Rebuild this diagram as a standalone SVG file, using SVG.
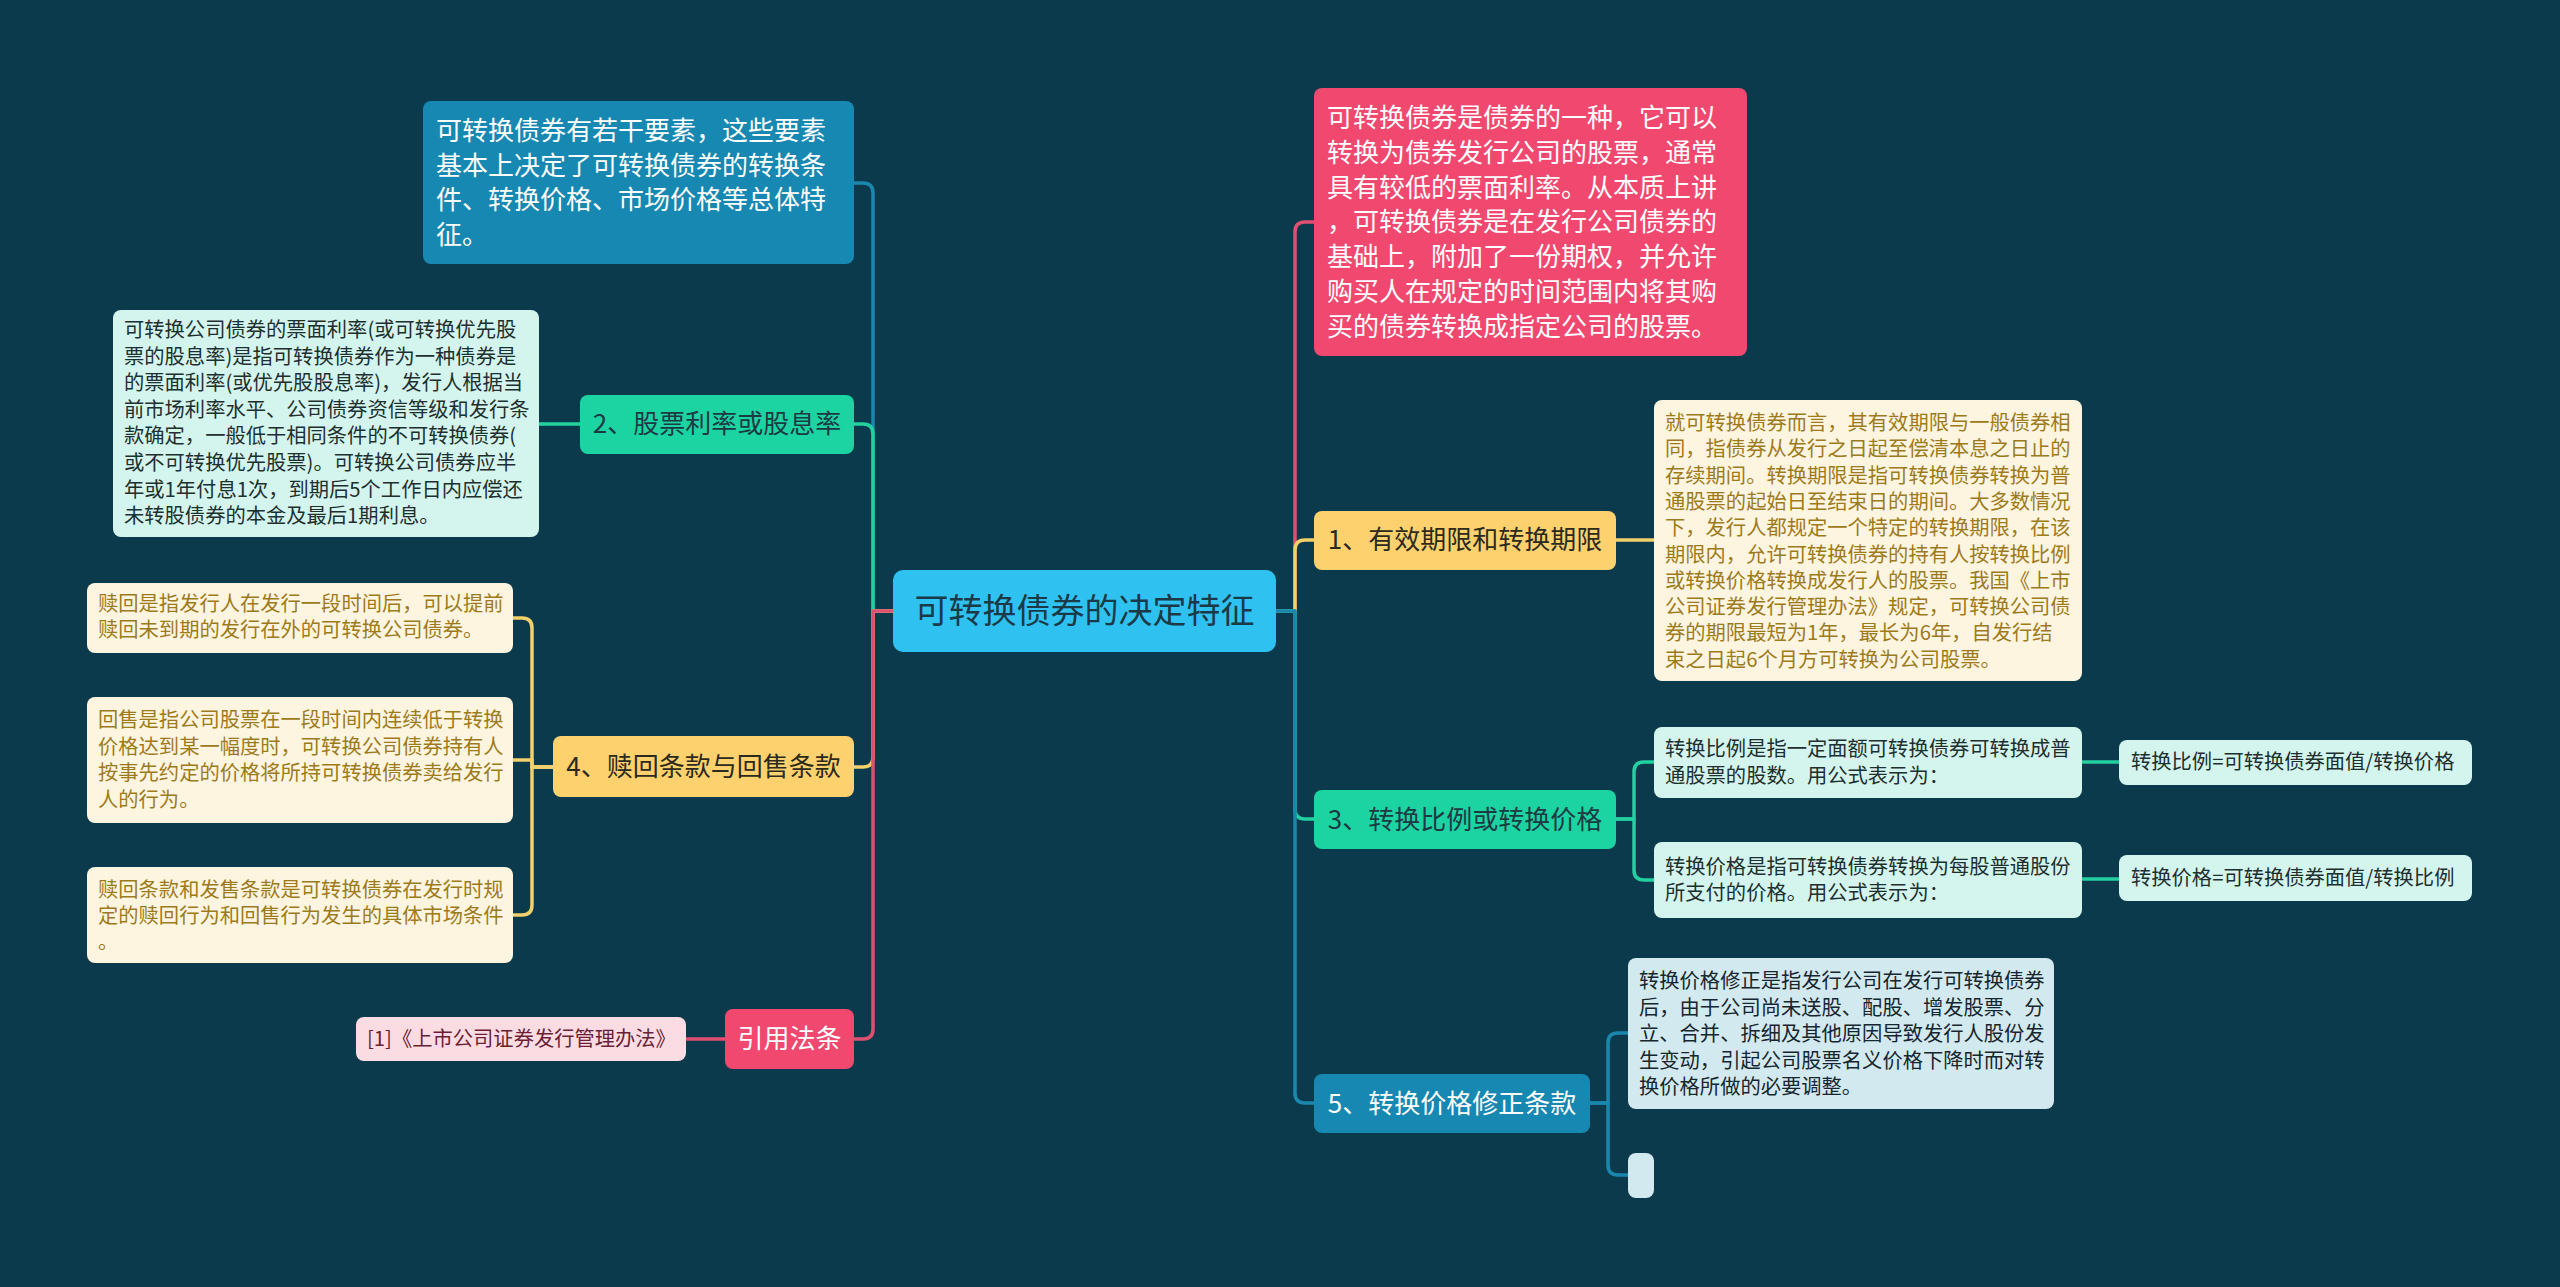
<svg xmlns="http://www.w3.org/2000/svg" width="2560" height="1287" viewBox="0 0 2560 1287">
<style>
text{font-family:"Microsoft YaHei","Noto Sans CJK SC","Noto Sans",sans-serif}
.c{fill:none;stroke-width:3.5;stroke-linecap:round;stroke-linejoin:round}
.cb{stroke:#1a87ad}.cg{stroke:#22d0a0}.cy{stroke:#f2d06b}.cr{stroke:#df4f72}
.l1{font-size:26px;text-anchor:middle}
.d{font-size:20.3px}
.big{font-size:26px}
.w{fill:#ffffff}
.dk{fill:#1d3a42}
.gold{fill:#9d7b1c}
.mar{fill:#6b1f35}
</style>
<rect width="2560" height="1287" fill="#0c3a4d"/>
<g id="connectors">
<path class="c cb" d="M893,611 H873 V193 Q873,183 863,183 H854"/>
<path class="c cg" d="M893,611 H873 V434 Q873,424 863,424 H854"/>
<path class="c cy" d="M893,611 H873 V757 Q873,767 863,767 H854"/>
<path class="c cr" d="M893,611 H873 V1029 Q873,1039 863,1039 H854"/>
<path class="c cr" d="M1276,611 H1295 V232 Q1295,222 1305,222 H1314"/>
<path class="c cy" d="M1276,611 H1295 V550 Q1295,540 1305,540 H1314"/>
<path class="c cg" d="M1276,611 H1295 V809 Q1295,819 1305,819 H1314"/>
<path class="c cb" d="M1276,611 H1295 V1093 Q1295,1103 1305,1103 H1314"/>
<path class="c cg" d="M580,424 H539"/>
<path class="c cy" d="M553,767 H532 V628 Q532,618 522,618 H513"/>
<path class="c cy" d="M553,767 H532 V760 H513"/>
<path class="c cy" d="M553,767 H532 V905 Q532,915 522,915 H513"/>
<path class="c cr" d="M725,1039 H686"/>
<path class="c cy" d="M1616,540 H1654"/>
<path class="c cg" d="M1616,819 H1634 V772 Q1634,762 1644,762 H1654"/>
<path class="c cg" d="M1616,819 H1634 V870 Q1634,880 1644,880 H1654"/>
<path class="c cg" d="M2082,762 H2119"/>
<path class="c cg" d="M2082,879 H2119"/>
<path class="c cb" d="M1590,1103 H1608 V1043 Q1608,1033 1618,1033 H1628"/>
<path class="c cb" d="M1590,1103 H1608 V1165 Q1608,1175 1618,1175 H1628"/>
</g>
<g id="root">
<rect x="893" y="570" width="383" height="82" rx="10" fill="#2fc2f1"/>
<text x="1084.5" y="623" font-size="34" text-anchor="middle" fill="#1b3a48">可转换债券的决定特征</text>
</g>
<g id="intro-left">
<rect x="423" y="101" width="431" height="163" rx="8" fill="#1688b1"/>
<text class="big w" x="436"><tspan x="436" y="140">可转换债券有若干要素，这些要素</tspan><tspan x="436" y="174.6">基本上决定了可转换债券的转换条</tspan><tspan x="436" y="209.2">件、转换价格、市场价格等总体特</tspan><tspan x="436" y="243.8">征。</tspan></text>
</g>
<g id="n2">
<rect x="580" y="395" width="274" height="59" rx="8" fill="#1cd4a2"/>
<text class="l1 dk" x="717" y="433">2、股票利率或股息率</text>
</g>
<g id="n2-detail">
<rect x="113" y="310" width="426" height="227" rx="8" fill="#d3f5ee"/>
<text class="d" fill="#1e2f30"><tspan x="124" y="337">可转换公司债券的票面利率(或可转换优先股</tspan><tspan x="124" y="363.6">票的股息率)是指可转换债券作为一种债券是</tspan><tspan x="124" y="390.2">的票面利率(或优先股股息率)，发行人根据当</tspan><tspan x="124" y="416.8">前市场利率水平、公司债券资信等级和发行条</tspan><tspan x="124" y="443.4">款确定，一般低于相同条件的不可转换债券(</tspan><tspan x="124" y="470">或不可转换优先股票)。可转换公司债券应半</tspan><tspan x="124" y="496.6">年或1年付息1次，到期后5个工作日内应偿还</tspan><tspan x="124" y="523.2">未转股债券的本金及最后1期利息。</tspan></text>
</g>
<g id="n4">
<rect x="553" y="736" width="301" height="61" rx="8" fill="#fdd26e"/>
<text class="l1" x="703.5" y="776" fill="#2b2a1c">4、赎回条款与回售条款</text>
</g>
<g id="n4-c1">
<rect x="87" y="583" width="426" height="70" rx="8" fill="#fdf5df"/>
<text class="d gold"><tspan x="98" y="611">赎回是指发行人在发行一段时间后，可以提前</tspan><tspan x="98" y="637">赎回未到期的发行在外的可转换公司债券。</tspan></text>
</g>
<g id="n4-c2">
<rect x="87" y="697" width="426" height="126" rx="8" fill="#fdf5df"/>
<text class="d gold"><tspan x="98" y="727">回售是指公司股票在一段时间内连续低于转换</tspan><tspan x="98" y="753.5">价格达到某一幅度时，可转换公司债券持有人</tspan><tspan x="98" y="780">按事先约定的价格将所持可转换债券卖给发行</tspan><tspan x="98" y="806.5">人的行为。</tspan></text>
</g>
<g id="n4-c3">
<rect x="87" y="867" width="426" height="96" rx="8" fill="#fdf5df"/>
<text class="d gold"><tspan x="98" y="897">赎回条款和发售条款是可转换债券在发行时规</tspan><tspan x="98" y="923">定的赎回行为和回售行为发生的具体市场条件</tspan><tspan x="98" y="949">。</tspan></text>
</g>
<g id="law">
<rect x="725" y="1009" width="129" height="60" rx="8" fill="#f0486f"/>
<text class="l1 w" x="789.5" y="1048">引用法条</text>
</g>
<g id="law-c1">
<rect x="356" y="1017" width="330" height="44" rx="8" fill="#fbdce3"/>
<text class="d mar" x="367" y="1046">[1]《上市公司证券发行管理办法》</text>
</g>
<g id="intro-right">
<rect x="1314" y="88" width="433" height="268" rx="8" fill="#f0486f"/>
<text class="big w"><tspan x="1327" y="127">可转换债券是债券的一种，它可以</tspan><tspan x="1327" y="161.8">转换为债券发行公司的股票，通常</tspan><tspan x="1327" y="196.6">具有较低的票面利率。从本质上讲</tspan><tspan x="1327" y="231.4">，可转换债券是在发行公司债券的</tspan><tspan x="1327" y="266.2">基础上，附加了一份期权，并允许</tspan><tspan x="1327" y="301">购买人在规定的时间范围内将其购</tspan><tspan x="1327" y="335.8">买的债券转换成指定公司的股票。</tspan></text>
</g>
<g id="n1">
<rect x="1314" y="511" width="302" height="59" rx="8" fill="#fdd26e"/>
<text class="l1" x="1465" y="549" fill="#2b2a1c">1、有效期限和转换期限</text>
</g>
<g id="n1-detail">
<rect x="1654" y="400" width="428" height="281" rx="8" fill="#fdf5df"/>
<text class="d gold"><tspan x="1665" y="430">就可转换债券而言，其有效期限与一般债券相</tspan><tspan x="1665" y="456.3">同，指债券从发行之日起至偿清本息之日止的</tspan><tspan x="1665" y="482.6">存续期间。转换期限是指可转换债券转换为普</tspan><tspan x="1665" y="508.9">通股票的起始日至结束日的期间。大多数情况</tspan><tspan x="1665" y="535.2">下，发行人都规定一个特定的转换期限，在该</tspan><tspan x="1665" y="561.5">期限内，允许可转换债券的持有人按转换比例</tspan><tspan x="1665" y="587.8">或转换价格转换成发行人的股票。我国《上市</tspan><tspan x="1665" y="614.1">公司证券发行管理办法》规定，可转换公司债</tspan><tspan x="1665" y="640.4">券的期限最短为1年，最长为6年，自发行结</tspan><tspan x="1665" y="666.7">束之日起6个月方可转换为公司股票。</tspan></text>
</g>
<g id="n3">
<rect x="1314" y="790" width="302" height="59" rx="8" fill="#1cd4a2"/>
<text class="l1 dk" x="1465" y="828.5">3、转换比例或转换价格</text>
</g>
<g id="n3-c1">
<rect x="1654" y="727" width="428" height="71" rx="8" fill="#d3f5ee"/>
<text class="d" fill="#1e2f30"><tspan x="1665" y="756">转换比例是指一定面额可转换债券可转换成普</tspan><tspan x="1665" y="783">通股票的股数。用公式表示为：</tspan></text>
</g>
<g id="n3-c2">
<rect x="1654" y="842" width="428" height="76" rx="8" fill="#d3f5ee"/>
<text class="d" fill="#1e2f30"><tspan x="1665" y="874">转换价格是指可转换债券转换为每股普通股份</tspan><tspan x="1665" y="900">所支付的价格。用公式表示为：</tspan></text>
</g>
<g id="formula1">
<rect x="2119" y="740" width="353" height="45" rx="8" fill="#d3f5ee"/>
<text class="d" x="2131" y="769" fill="#1e2f30">转换比例=可转换债券面值/转换价格</text>
</g>
<g id="formula2">
<rect x="2119" y="855" width="353" height="46" rx="8" fill="#d3f5ee"/>
<text class="d" x="2131" y="885" fill="#1e2f30">转换价格=可转换债券面值/转换比例</text>
</g>
<g id="n5">
<rect x="1314" y="1074" width="276" height="59" rx="8" fill="#1688b1"/>
<text class="l1 w" x="1452" y="1112.5">5、转换价格修正条款</text>
</g>
<g id="n5-c1">
<rect x="1628" y="958" width="426" height="151" rx="8" fill="#d3e9f0"/>
<text class="d" fill="#16262e"><tspan x="1639" y="988">转换价格修正是指发行公司在发行可转换债券</tspan><tspan x="1639" y="1014.5">后，由于公司尚未送股、配股、增发股票、分</tspan><tspan x="1639" y="1041">立、合并、拆细及其他原因导致发行人股份发</tspan><tspan x="1639" y="1067.5">生变动，引起公司股票名义价格下降时而对转</tspan><tspan x="1639" y="1094">换价格所做的必要调整。</tspan></text>
</g>
<g id="n5-c2">
<rect x="1628" y="1153" width="26" height="45" rx="8" fill="#d3e9f0"/>
</g>
</svg>
